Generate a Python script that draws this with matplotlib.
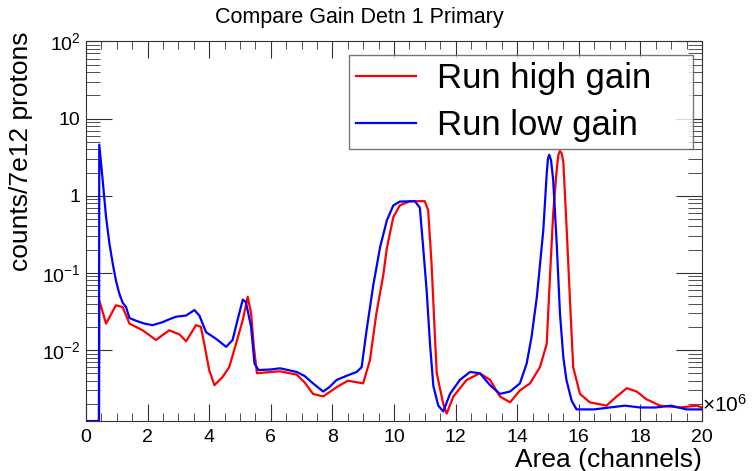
import numpy as np
import matplotlib
matplotlib.use("Agg")
import matplotlib.pyplot as plt
from matplotlib.ticker import FixedLocator, LogLocator, NullFormatter, MultipleLocator

plt.rcParams['font.family'] = ['Liberation Sans', 'DejaVu Sans']
plt.rcParams['mathtext.fontset'] = 'custom'
plt.rcParams['mathtext.rm'] = 'Liberation Sans'
plt.rcParams['mathtext.it'] = 'Liberation Sans'

# area in units of 1e6 channels, counts per 7e12 protons
x_high = [0.0, 0.42, 0.43, 0.65, 0.97, 1.19, 1.41, 1.84, 2.27, 2.7, 3.03, 3.25, 3.57, 3.73,
          3.84, 4.0, 4.17, 4.44, 4.65, 4.87, 5.09, 5.25, 5.36, 5.45, 5.55, 6.0, 6.3, 6.84,
          7.1, 7.37, 7.7, 8.14, 8.5, 9.0, 9.22, 9.43, 9.65, 9.77, 9.98, 10.19, 10.52, 11.0,
          11.11, 11.22, 11.33, 11.39, 11.6, 11.71, 11.93, 12.36, 12.79, 13.12, 13.44, 13.77,
          14.09, 14.42, 14.74, 14.96, 15.06, 15.17, 15.28, 15.34, 15.39, 15.45, 15.5, 15.61,
          15.71, 15.82, 16.04, 16.36, 16.9, 17.23, 17.56, 17.88, 18.2, 18.64, 19.29, 19.83,
          20.0]
y_high = [0, 0, 0.044, 0.022, 0.038, 0.036, 0.022, 0.018, 0.0135, 0.018, 0.016, 0.013, 0.021,
          0.020, 0.012, 0.0055, 0.0035, 0.0045, 0.006, 0.012, 0.0245, 0.049, 0.030, 0.011,
          0.005, 0.0052, 0.0053, 0.0048, 0.0038, 0.0027, 0.0025, 0.0033, 0.0040, 0.0037,
          0.0074, 0.030, 0.092, 0.21, 0.53, 0.75, 0.85, 0.85, 0.65, 0.133, 0.015, 0.005,
          0.002, 0.0015, 0.0025, 0.0041, 0.005, 0.0041, 0.0025, 0.0021, 0.003, 0.0037, 0.006,
          0.012, 0.08, 0.59, 2.1, 3.4, 3.8, 3.5, 2.7, 0.36, 0.049, 0.006, 0.0027, 0.0021,
          0.0019, 0.0025, 0.0032, 0.0029, 0.0023, 0.0019, 0.0018, 0.0019, 0.0018]

x_low = [0.0, 0.42, 0.43, 0.54, 0.65, 0.76, 0.87, 0.97, 1.08, 1.19, 1.3, 1.41, 1.62, 1.9,
         2.16, 2.49, 2.7, 2.92, 3.25, 3.52, 3.68, 3.9, 4.22, 4.55, 4.76, 4.92, 5.09, 5.19,
         5.36, 5.47, 5.6, 6.0, 6.3, 6.84, 7.1, 7.37, 7.7, 7.9, 8.14, 8.5, 8.79, 8.95, 9.11,
         9.33, 9.55, 9.77, 9.98, 10.19, 10.68, 10.84, 10.95, 11.06, 11.17, 11.28, 11.44,
         11.6, 11.82, 12.14, 12.47, 12.79, 13.12, 13.44, 13.77, 14.09, 14.31, 14.47, 14.64,
         14.85, 14.96, 15.0, 15.04, 15.1, 15.17, 15.28, 15.39, 15.5, 15.6, 15.77, 15.93,
         16.5, 17.0, 17.5, 18.0, 18.5, 19.0, 19.5, 20.0]
y_low = [0, 0, 4.6, 1.6, 0.53, 0.24, 0.13, 0.08, 0.054, 0.041, 0.036, 0.026, 0.024, 0.022,
         0.021, 0.023, 0.025, 0.027, 0.028, 0.033, 0.028, 0.017, 0.014, 0.011, 0.0135,
         0.0245, 0.045, 0.042, 0.020, 0.0067, 0.0055, 0.0056, 0.0058, 0.0052, 0.0046,
         0.0037, 0.0029, 0.0033, 0.0041, 0.0047, 0.0052, 0.006, 0.018, 0.07, 0.217, 0.48,
         0.75, 0.84, 0.85, 0.70, 0.21, 0.06, 0.012, 0.0034, 0.0019, 0.0016, 0.0027, 0.0041,
         0.0052, 0.005, 0.0035, 0.0027, 0.0029, 0.0037, 0.0067, 0.015, 0.049, 0.36, 1.93,
         3.0, 3.4, 2.9, 1.6, 0.26, 0.03, 0.008, 0.0041, 0.0022, 0.0017, 0.0017, 0.0018,
         0.0019, 0.0018, 0.0018, 0.0019, 0.0017, 0.0017]

ymin, ymax = 1.2e-3, 100

fig = plt.figure(figsize=(7.52, 4.71), dpi=100)
ax = fig.add_axes([0.1144, 0.106, 0.819, 0.806])

ax.plot(x_high, np.maximum(y_high, ymin), color='#ff0000', lw=1.6)
ax.plot(x_low, np.maximum(y_low, ymin), color='#0000ff', lw=1.6)

ax.set_yscale('log')
ax.set_xlim(0, 20)
ax.set_ylim(ymin, ymax)

ax.xaxis.set_major_locator(MultipleLocator(2))
ax.xaxis.set_minor_locator(MultipleLocator(0.5))
ax.yaxis.set_major_locator(FixedLocator([1e-2, 1e-1, 1, 10, 100]))
ax.yaxis.set_minor_locator(LogLocator(base=10, subs=np.arange(2, 10)))
ax.yaxis.set_minor_formatter(NullFormatter())
ax.set_yticklabels([r'$10^{-2}$', r'$10^{-1}$', '1', '10', r'$10^{2}$'])

ax.tick_params(which='both', direction='in', top=True, right=True, labelsize=14, color='#333333')
ax.tick_params(axis='x', which='major', length=12, pad=6)
ax.tick_params(axis='x', which='minor', length=6)
ax.tick_params(axis='y', which='major', length=19, pad=4)
ax.tick_params(axis='y', which='minor', length=10)
for s in ax.spines.values():
    s.set_color('#333333')

ax.set_xlabel('Area (channels)', fontsize=19, loc='right', labelpad=1)
ax.set_ylabel('counts/7e12 protons', fontsize=19, loc='top')
ax.yaxis.set_label_coords(-0.086, 1.025)
ax.text(1.0, 0.015, r'$\times10^{6}$', transform=ax.transAxes, fontsize=15,
        ha='left', va='bottom')

fig.text(0.478, 0.962, 'Compare Gain Detn 1 Primary', ha='center', va='center', fontsize=15.5)

leg = ax.legend(['Run high gain', 'Run low gain'], loc='upper left',
                bbox_to_anchor=(0.427, 0.5, 0.558, 0.463), mode='expand',
                fontsize=25, frameon=True, fancybox=False,
                edgecolor='#555555', handlelength=1.75, handletextpad=0.6,
                borderpad=0.19, labelspacing=0.4, borderaxespad=0)
leg.get_frame().set_linewidth(1.0)

fig.savefig('out.png', dpi=100)
